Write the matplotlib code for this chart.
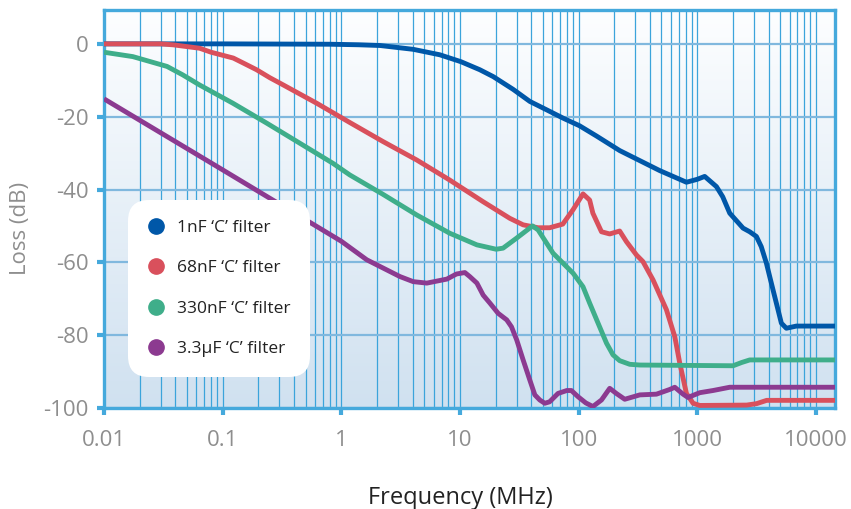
import numpy as np
import matplotlib.pyplot as plt
from matplotlib.lines import Line2D
from matplotlib.colors import LinearSegmentedColormap

plt.rcParams["font.family"] = ["Open Sans", "DejaVu Sans"]
plt.rcParams["axes.unicode_minus"] = False

# values (frequency in MHz, loss in dB)
f_1nF = [0.01, 0.1, 0.8, 1.4, 2.12, 4.04, 6.77, 10.2, 14.7, 19.1, 28.1, 38.8, 53.7,
         74.1, 102, 141.5, 222, 483, 811, 1000, 1156, 1452, 1641, 1880, 2434, 2770,
         3155, 3467, 3828, 4083, 4358, 4796, 5120, 5640, 6845, 14500]
db_1nF = [0, 0, -0.1, -0.25, -0.45, -1.5, -3.0, -4.9, -7.1, -9.0, -12.5, -15.8, -18.1,
          -20.4, -22.5, -25.3, -29.3, -34.8, -38.0, -37.2, -36.4, -39.2, -42, -46.5,
          -50.6, -51.6, -52.9, -55.7, -60.2, -63.9, -67.6, -73, -76.7, -78.1, -77.5, -77.5]

f_68nF = [0.01, 0.03, 0.0384, 0.064, 0.08, 0.123, 0.15, 0.193, 0.25, 0.325, 0.62, 1.18,
          2.24, 4.33, 8.2, 15.6, 26.3, 34.1, 45.6, 57, 73.6, 90, 109, 124, 132, 156,
          183, 222, 253, 308, 349, 424, 550, 647, 713, 811, 923, 1050, 2612, 3170,
          3850, 14500]
db_68nF = [0, 0, -0.27, -1.2, -2.3, -3.9, -5.3, -7.1, -9.3, -11.3, -16.3, -21.6,
           -26.8, -31.9, -37.4, -43.3, -47.9, -49.7, -50.5, -50.5, -49.5, -45.5, -41.2,
           -42.9, -46.5, -51.6, -52.2, -51.4, -54.3, -58, -59.8, -64.8, -73, -80.4,
           -87.7, -96, -98.7, -99.3, -99.2, -98.8, -97.9, -97.9]

f_330nF = [0.01, 0.0175, 0.034, 0.046, 0.064, 0.122, 0.236, 0.448, 0.85, 1.18, 2.24,
           4.33, 8.2, 13.9, 20.2, 23.1, 29.9, 40.9, 45.6, 61, 90, 109, 124, 146, 172,
           195, 222, 270, 328, 2005, 2372, 2770, 14500]
db_330nF = [-2.3, -3.5, -6.2, -8.5, -11.3, -16.3, -21.8, -27.3, -32.8, -36, -41.3,
            -47, -52, -55.2, -56.4, -56.1, -53.4, -50, -51.1, -57.5, -63, -66.7, -71.2,
            -76.7, -82.2, -85.4, -87, -88, -88.2, -88.4, -87.5, -86.8, -86.8]

f_3u3F = [0.01, 0.1, 0.265, 1.0, 1.64, 3.12, 4.04, 5.26, 7.76, 9.35, 11, 12.1, 13.9,
          15.7, 17.9, 21, 24.8, 27.2, 30.1, 34.1, 38.8, 42.8, 47.1, 51.9, 57, 67.1,
          79.6, 87, 99, 115, 132, 156, 183, 208, 245, 328, 453, 588, 647, 760, 836,
          1050, 1358, 1880, 14500]
db_3u3F = [-15.1, -34.6, -42.9, -54.2, -59.3, -63.9, -65.3, -65.7, -64.6, -63.2, -62.8,
           -63.9, -65.7, -69, -71.2, -74, -75.8, -77.7, -81.3, -86.8, -92.3, -96.4,
           -97.8, -98.7, -98.3, -96, -95.2, -95.2, -96.9, -98.6, -99.6, -97.8, -94.6,
           -96, -97.6, -96.4, -96.2, -94.9, -94.3, -96.2, -97.1, -95.8, -95.2, -94.3,
           -94.3]

series = [
    ("1nF \u2018C\u2019 filter", f_1nF, db_1nF, "#0057a8"),
    ("68nF \u2018C\u2019 filter", f_68nF, db_68nF, "#d9505c"),
    ("330nF \u2018C\u2019 filter", f_330nF, db_330nF, "#3fae8a"),
    ("3.3\u00b5F \u2018C\u2019 filter", f_3u3F, db_3u3F, "#8c3a90"),
]

x_ticks = [0.01, 0.1, 1, 10, 100, 1000, 10000]
x_labels = ["0.01", "0.1", "1", "10", "100", "1000", "10000"]
y_ticks = [0, -20, -40, -60, -80, -100]

edge = "#45a9dc"
fig = plt.figure(figsize=(8.51, 5.09), dpi=100)
ax = fig.add_axes([104 / 851, 1 - 408 / 509, 731 / 851, 398 / 509])

# background gradient, white at top to pale blue at bottom
grad = np.linspace(0, 1, 256).reshape(-1, 1)
cmap = LinearSegmentedColormap.from_list("bg", ["#fdfeff", "#d0e1f0"])
ax.imshow(grad, cmap=cmap, aspect="auto", extent=[0, 1, 0, 1],
          transform=ax.transAxes, zorder=0)

ax.set_xscale("log")
ax.set_xlim(0.01, 14500)
ax.set_ylim(-100, 9.3)

for label, fx, fy, col in series:
    ax.plot(fx, fy, color=col, lw=3.5, zorder=3, solid_joinstyle="round",
            solid_capstyle="butt")

ax.set_xticks(x_ticks)
ax.set_xticklabels(x_labels)
ax.set_yticks(y_ticks)
ax.xaxis.grid(True, which="both", color="#3ba4db", lw=0.9, zorder=1)
ax.yaxis.grid(True, which="major", color="#80b8de", lw=1.6, zorder=1)
ax.set_axisbelow(True)
ax.tick_params(axis="both", which="major", direction="out", length=5, width=3,
               color=edge, labelcolor="#8e8e8e", labelsize=16)
ax.tick_params(axis="x", which="major", pad=11)
ax.tick_params(axis="y", which="major", pad=6)
ax.tick_params(axis="x", which="minor", length=0)
for sp in ax.spines.values():
    sp.set_color(edge)
    sp.set_linewidth(2.4)

ax.set_xlabel("Frequency (MHz)", fontsize=17, color="#222222")
ax.xaxis.set_label_coords(0.487, -0.195)
ax.set_ylabel("Loss (dB)", fontsize=16, color="#8e8e8e")
ax.yaxis.set_label_coords(-0.10, 0.45)

handles = [Line2D([], [], ls="none", marker="o", ms=11, color=c, label=l)
           for l, _, _, c in series]
leg = ax.legend(handles=handles, loc="upper left", bbox_to_anchor=(0.033, 0.523),
                fontsize=12.5, frameon=True, framealpha=1, edgecolor="none",
                labelspacing=1.4, borderpad=1.15, handlelength=0.9,
                handletextpad=0.75, borderaxespad=0)
leg.get_frame().set_boxstyle("round", pad=0, rounding_size=1.2)
leg.get_frame().set_facecolor("white")
leg.set_zorder(5)
for t in leg.get_texts():
    t.set_color("#222222")

fig.savefig("out.png", dpi=100)
